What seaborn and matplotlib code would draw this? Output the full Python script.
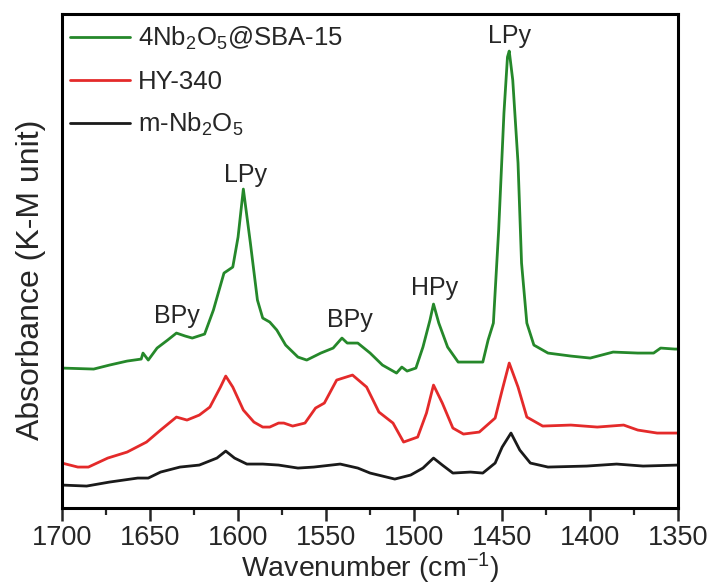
import numpy as np
import pandas as pd
import matplotlib
matplotlib.use("Agg")
import matplotlib.pyplot as plt
import seaborn as sns

# ---- data (wavenumber, absorbance in K-M units, offset stacked)
wn_sba = [1700, 1682, 1673, 1663, 1655, 1654, 1651, 1646, 1640, 1635, 1630, 1626,
          1619, 1614, 1608, 1603, 1600, 1597, 1593, 1589, 1586, 1582, 1578, 1573,
          1566, 1561, 1553, 1546, 1541, 1538, 1532, 1525, 1518, 1510, 1507, 1504,
          1499, 1495, 1491, 1489, 1486, 1481, 1475, 1468, 1461, 1458, 1455, 1452,
          1449, 1447, 1446, 1444, 1441, 1439, 1436, 1432, 1424, 1411, 1400, 1387,
          1373, 1364, 1360, 1352, 1350]
ab_sba = [0.280, 0.278, 0.286, 0.294, 0.298, 0.310, 0.296, 0.320, 0.336, 0.350, 0.344, 0.340,
          0.348, 0.396, 0.470, 0.482, 0.542, 0.638, 0.530, 0.416, 0.380, 0.372, 0.356, 0.326,
          0.302, 0.296, 0.310, 0.320, 0.340, 0.330, 0.330, 0.310, 0.286, 0.270, 0.282, 0.274,
          0.280, 0.322, 0.376, 0.408, 0.370, 0.322, 0.292, 0.292, 0.292, 0.336, 0.370, 0.556,
          0.790, 0.902, 0.914, 0.856, 0.690, 0.490, 0.370, 0.326, 0.310, 0.304, 0.300, 0.312,
          0.310, 0.310, 0.320, 0.318, 0.318]

wn_hy = [1700, 1691, 1685, 1674, 1663, 1652, 1644, 1635, 1629, 1622, 1616, 1610,
         1607, 1603, 1597, 1591, 1586, 1582, 1577, 1574, 1569, 1562, 1556, 1551,
         1544, 1535, 1527, 1520, 1512, 1506, 1498, 1493, 1489, 1484, 1478, 1472,
         1463, 1454, 1450, 1446, 1441, 1436, 1427, 1411, 1396, 1381, 1373, 1362, 1350]
ab_hy = [0.090, 0.082, 0.082, 0.100, 0.112, 0.132, 0.156, 0.182, 0.176, 0.186, 0.202, 0.242,
         0.264, 0.242, 0.196, 0.172, 0.162, 0.162, 0.170, 0.170, 0.164, 0.170, 0.200, 0.210,
         0.256, 0.266, 0.242, 0.192, 0.170, 0.132, 0.142, 0.190, 0.246, 0.210, 0.160, 0.148,
         0.152, 0.180, 0.236, 0.290, 0.242, 0.182, 0.164, 0.166, 0.162, 0.166, 0.156, 0.150, 0.150]

wn_nb = [1700, 1686, 1673, 1657, 1651, 1644, 1633, 1622, 1612, 1607, 1602, 1595,
         1586, 1577, 1566, 1557, 1542, 1532, 1525, 1511, 1502, 1495, 1489, 1484,
         1478, 1468, 1461, 1454, 1450, 1445, 1440, 1434, 1424, 1402, 1385, 1370, 1350]
ab_nb = [0.046, 0.044, 0.052, 0.060, 0.060, 0.072, 0.082, 0.086, 0.100, 0.114, 0.100, 0.088,
         0.088, 0.086, 0.080, 0.082, 0.088, 0.080, 0.070, 0.058, 0.066, 0.080, 0.100, 0.086,
         0.070, 0.072, 0.070, 0.090, 0.122, 0.150, 0.116, 0.090, 0.082, 0.084, 0.088, 0.084, 0.086]

labels = [r"4Nb$_2$O$_5$@SBA-15", "HY-340", r"m-Nb$_2$O$_5$"]
colors = ["#25882a", "#e42a2a", "#1a1a1a"]

# peak assignments: (label, wavenumber, height of text baseline)
peak_names = ["LPy", "LPy", "BPy", "BPy", "HPy"]
peak_wn = [1446, 1596, 1635, 1536.5, 1488.5]
peak_ab = [0.930, 0.652, 0.370, 0.362, 0.426]

frames = []
for lab, w, a in [(labels[0], wn_sba, ab_sba), (labels[1], wn_hy, ab_hy), (labels[2], wn_nb, ab_nb)]:
    frames.append(pd.DataFrame({"wn": w, "ab": a, "sample": lab}))
df = pd.concat(frames, ignore_index=True)

sns.set_theme(style="ticks")
plt.rcParams["font.family"] = ["Liberation Sans", "DejaVu Sans"]
plt.rcParams["mathtext.fontset"] = "custom"
plt.rcParams["mathtext.rm"] = "Liberation Sans"
plt.rcParams["mathtext.it"] = "Liberation Sans:italic"

fig = plt.figure(figsize=(7.1, 5.86), dpi=100)
ax = fig.add_axes([0.0873, 0.133, 0.868, 0.843])

sns.lineplot(data=df, x="wn", y="ab", hue="sample", hue_order=labels,
             palette=colors, estimator=None, sort=False, linewidth=2, ax=ax)

for name, w, a in zip(peak_names, peak_wn, peak_ab):
    ax.text(w, a, name, ha="center", va="baseline", fontsize=18)

ax.set_xlim(1700, 1350)
ax.set_ylim(0, 0.988)
ax.set_xticks(np.arange(1700, 1349, -50))
ax.set_xticks(np.arange(1675, 1350, -50), minor=True)
ax.set_yticks([])
ax.tick_params(axis="x", which="major", length=9, width=1.8, labelsize=19.5, pad=3)
ax.tick_params(axis="x", which="minor", length=5, width=1.6)
for s in ax.spines.values():
    s.set_linewidth(2.2)
    s.set_color("black")

ax.set_xlabel("Wavenumber (cm$^{-1}$)", fontsize=20.5, labelpad=0)
ax.set_ylabel("Absorbance (K-M unit)", fontsize=23)
ax.yaxis.set_label_coords(-0.026, 0.462)

leg = ax.legend(loc="upper left", frameon=False, fontsize=18.5, handlelength=2.35,
                handletextpad=0.3, labelspacing=0.68, borderpad=0, borderaxespad=0,
                bbox_to_anchor=(0.013, 0.978))
for line in leg.get_lines():
    line.set_linewidth(2)

fig.savefig("out.png", dpi=100)
